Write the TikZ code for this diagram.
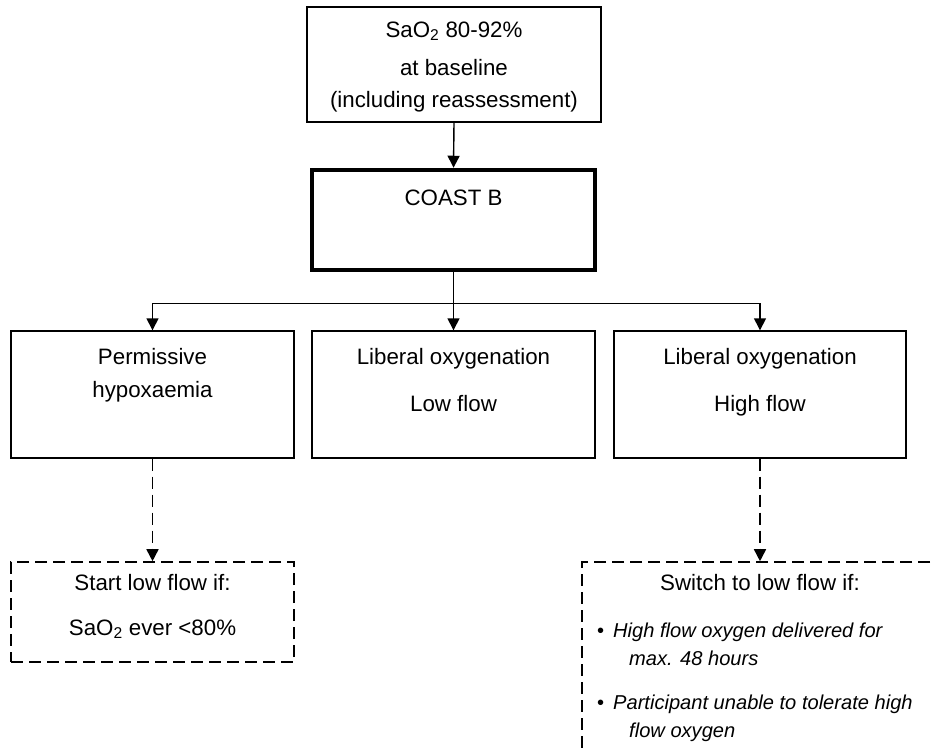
\documentclass[tikz,border=0pt]{standalone}
\usepackage{fontspec}
\setmainfont{Liberation Sans}
\usetikzlibrary{arrows.meta}
\begin{document}
\begin{tikzpicture}[x=1pt,y=-1pt,
  box/.style={draw, line width=1.4pt, inner sep=0pt},
  thickbox/.style={draw, line width=4.5pt, inner sep=0pt},
  dbox/.style={draw, line width=1.6pt, inner sep=0pt, dash pattern=on 12pt off 6pt},
  txt/.style={anchor=base, inner sep=0pt, font=\fontsize{22.3}{26}\selectfont},
  btxt/.style={anchor=base west, inner sep=0pt, font=\fontsize{20.1}{24}\selectfont\itshape},
  arr/.style={-{Triangle[length=12pt,width=12pt]}, line width=1.4pt},
  darr/.style={-{Triangle[length=12pt,width=12pt]}, line width=1.6pt, dash pattern=on 12pt off 6pt}
]
\useasboundingbox (0,0) rectangle (931,750);
\clip (0,0) rectangle (931,750);

% boxes
\node[box, minimum width=294pt, minimum height=115pt] (base) at (454,64.5) {};
\node[thickbox, minimum width=283pt, minimum height=100pt] (coast) at (453.5,220) {};
\node[box, minimum width=283pt, minimum height=127pt] (perm) at (152.5,394.5) {};
\node[box, minimum width=283pt, minimum height=127pt] (low) at (453.5,394.5) {};
\node[box, minimum width=292pt, minimum height=127pt] (high) at (760,394.5) {};
\node[dbox, minimum width=283pt, minimum height=100pt] (start) at (152.5,612) {};
\node[dbox, minimum width=400pt, minimum height=250pt] (switch) at (782,687) {};

% texts
\node[txt] (t1) at (454,37) {SaO\textsubscript{2} 80-92\%};
\node[txt] (t2) at (454,75) {at baseline};
\node[txt] (t3) at (454,107) {(including reassessment)};
\node[txt] (tc) at (453.5,205) {COAST B};
\node[txt] (tp1) at (152.5,364) {Permissive};
\node[txt] (tp2) at (152.5,397) {hypoxaemia};
\node[txt] (tl1) at (453.5,364) {Liberal oxygenation};
\node[txt] (tl2) at (453.5,411) {Low flow};
\node[txt] (th1) at (760,364) {Liberal oxygenation};
\node[txt] (th2) at (760,411) {High flow};
\node[txt] (ts1) at (152.5,590) {Start low flow if:};
\node[txt] (ts2) at (152.5,635) {SaO\textsubscript{2} ever <80\%};
\node[txt] (tw1) at (760,590) {Switch to low flow if:};
\node[btxt, font=\fontsize{20.1}{24}\selectfont] (bd1) at (597,637) {\textbullet};
\node[btxt] (b1a) at (613,637) {High flow oxygen delivered for};
\node[btxt] (b1b) at (629,665) {max. 48 hours};
\node[btxt, font=\fontsize{20.1}{24}\selectfont] (bd2) at (597,709) {\textbullet};
\node[btxt] (b2a) at (613,709) {Participant unable to tolerate high};
\node[btxt] (b2b) at (629,737) {flow oxygen};

% connectors
\draw[arr] (base.south) -- (coast.north);
\path (coast.south) ++(0,31) coordinate (split);
\draw[arr] (coast.south) -- (low.north);
\draw[arr] (split) -| (perm.north);
\draw[arr] (split) -| (high.north);
\draw[darr] (perm.south) -- (start.north);
\draw[darr] (high.south) -- (high.south |- switch.north);
\end{tikzpicture}
\end{document}
